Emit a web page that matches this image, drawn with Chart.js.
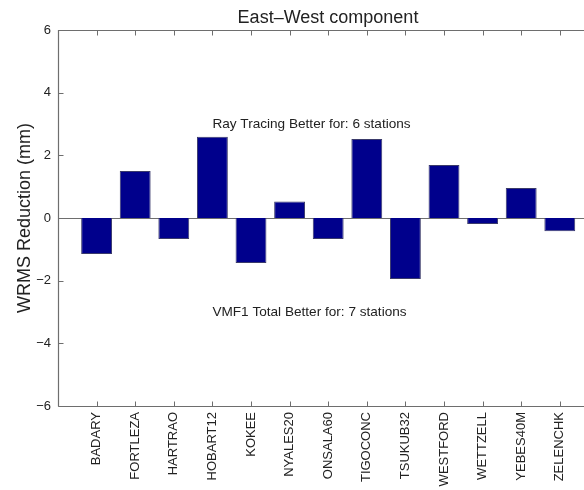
<!DOCTYPE html>
<html>
<head>
<meta charset="utf-8">
<script src="https://cdn.jsdelivr.net/npm/chart.js@4.4.1/dist/chart.umd.min.js"></script>
<style>
  html, body { margin: 0; padding: 0; background: #fff; overflow: hidden; }
  #wrap { width: 584px; height: 490px; overflow: hidden; position: relative; }
  canvas { display: block; }
</style>
</head>
<body>
<div id="wrap"><canvas id="c" width="620" height="490"></canvas></div>
<script>
const stations = ['BADARY','FORTLEZA','HARTRAO','HOBART12','KOKEE','NYALES20','ONSALA60','TIGOCONC','TSUKUB32','WESTFORD','WETTZELL','YEBES40M','ZELENCHK'];
const reduction = [-1.15, 1.50, -0.67, 2.59, -1.44, 0.53, -0.67, 2.52, -1.95, 1.69, -0.19, 0.96, -0.42];
const yTicks = [-6, -4, -2, 0, 2, 4, 6];
const titleText = 'East\u2013West component';
const yLabel = 'WRMS Reduction (mm)';
const notes = [
  { x: 4, y: 3, text: 'Ray Tracing Better for: 6 stations' },
  { x: 4, y: -3, text: 'VMF1 Total Better for: 7 stations' }
];

const labels = [''].concat(stations, ['']);
const values = [null].concat(reduction, [null]);
const FONT = '"Liberation Sans", Arial, Helvetica, sans-serif';
const AXIS = '#6e6e6e';

const decor = {
  id: 'decor',
  beforeDatasetsDraw(chart) {
    const { ctx, chartArea: a, scales } = chart;
    const y0 = scales.y.getPixelForValue(0);
    ctx.save();
    ctx.strokeStyle = AXIS;
    ctx.lineWidth = 1;
    ctx.beginPath();
    ctx.moveTo(a.left, Math.round(y0) + 0.5);
    ctx.lineTo(a.right, Math.round(y0) + 0.5);
    ctx.stroke();
    ctx.restore();
  },
  afterDatasetsDraw(chart) {
    const { ctx, chartArea: a, scales } = chart;
    const L = Math.round(a.left) + 0.5, R = Math.round(a.right) + 0.5;
    const T = Math.round(a.top) + 0.5, B = Math.round(a.bottom) + 0.5;
    ctx.save();
    ctx.strokeStyle = AXIS;
    ctx.lineWidth = 1.2;
    ctx.beginPath();
    ctx.moveTo(L, B); ctx.lineTo(L, T); ctx.lineTo(R, T); ctx.lineTo(R, B); ctx.lineTo(L, B);
    ctx.stroke();
    ctx.lineWidth = 1;
    ctx.beginPath();
    yTicks.forEach(v => {
      const py = Math.round(scales.y.getPixelForValue(v)) + 0.5;
      ctx.moveTo(L, py); ctx.lineTo(L + 5, py);
      ctx.moveTo(R, py); ctx.lineTo(R - 5, py);
    });
    stations.forEach((s, i) => {
      const px = Math.round(scales.x.getPixelForValue(i + 1)) + 0.5;
      ctx.moveTo(px, T); ctx.lineTo(px, T + 5);
      ctx.moveTo(px, B); ctx.lineTo(px, B - 5);
    });
    ctx.stroke();

    ctx.fillStyle = '#222';
    ctx.font = '13.6px ' + FONT;
    ctx.textAlign = 'left';
    ctx.textBaseline = 'middle';
    notes.forEach(n => {
      ctx.fillText(n.text, scales.x.getPixelForValue(n.x), scales.y.getPixelForValue(n.y));
    });

    ctx.font = '18px ' + FONT;
    ctx.textAlign = 'center';
    ctx.textBaseline = 'alphabetic';
    ctx.fillText(titleText, 328, 23);

    ctx.save();
    ctx.translate(25, 218);
    ctx.rotate(-Math.PI / 2);
    ctx.font = '18px ' + FONT;
    ctx.textAlign = 'center';
    ctx.textBaseline = 'middle';
    ctx.fillText(yLabel, 0, 0);
    ctx.restore();
    ctx.restore();
  }
};

new Chart(document.getElementById('c'), {
  type: 'bar',
  data: {
    labels: labels,
    datasets: [{
      data: values,
      backgroundColor: '#00008c',
      borderColor: '#3a3a6a',
      borderWidth: 1,
      barPercentage: 0.8,
      categoryPercentage: 1.0
    }]
  },
  options: {
    responsive: false,
    animation: false,
    layout: { padding: { left: 0, top: 30, right: 17, bottom: 0 } },
    plugins: { legend: { display: false }, tooltip: { enabled: false }, title: { display: false } },
    scales: {
      x: {
        type: 'category',
        offset: false,
        grid: { display: false, drawTicks: false },
        border: { display: false },
        ticks: {
          autoSkip: false,
          minRotation: 90,
          maxRotation: 90,
          padding: 6,
          color: '#222',
          font: { family: FONT, size: 13 }
        },
        afterFit(scale) { scale.height = 84; }
      },
      y: {
        min: -6,
        max: 6,
        grid: { display: false, drawTicks: false },
        border: { display: false },
        afterBuildTicks(scale) { scale.ticks = yTicks.map(v => ({ value: v })); },
        ticks: {
          padding: 7,
          color: '#222',
          font: { family: FONT, size: 13 },
          callback: v => (v < 0 ? '\u2212' + Math.abs(v) : String(v))
        },
        afterFit(scale) { scale.width = 58; }
      }
    }
  },
  plugins: [decor]
});
</script>
</body>
</html>
